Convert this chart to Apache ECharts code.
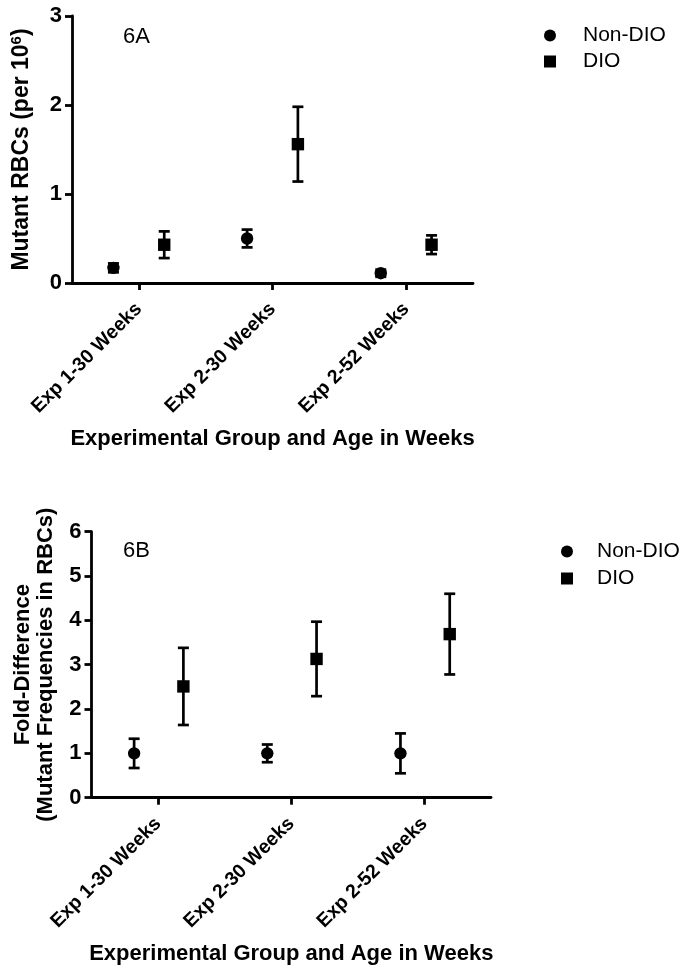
<!DOCTYPE html>
<html>
<head>
<meta charset="utf-8">
<script src="https://cdn.jsdelivr.net/npm/echarts@6/dist/echarts.min.js"></script>
<style>
html,body{margin:0;padding:0;background:#fff;}
#chart{width:689px;height:975px;}
</style>
</head>
<body>
<div id="chart"></div>
<script>
const categories = ['Exp 1-30 Weeks', 'Exp 2-30 Weeks', 'Exp 2-52 Weeks'];
const yTicksA = [0, 1, 2, 3];
const yTicksB = [0, 1, 2, 3, 4, 5, 6];

// Panel 6A: Mutant RBCs (per 10^6), mean and error
const aNonDioMean = [0.17, 0.50, 0.11];
const aNonDioErr  = [0.05, 0.10, 0.04];
const aDioMean    = [0.43, 1.56, 0.43];
const aDioErr     = [0.15, 0.42, 0.105];

// Panel 6B: Fold-difference, mean and error
const bNonDioMean = [1.00, 1.00, 1.00];
const bNonDioErr  = [0.33, 0.20, 0.45];
const bDioMean    = [2.51, 3.13, 3.69];
const bDioErr     = [0.87, 0.84, 0.91];

const FONT = 'Arial, "Liberation Sans", Helvetica, sans-serif';

function rows(means, errs) {
  return means.map((m, i) => [i, m, errs[i]]);
}

function makeRender(offsetFrac, shape) {
  return function (params, api) {
    const idx = api.value(0), mean = api.value(1), err = api.value(2);
    const c = api.coord([idx, mean]);
    const band = api.size([1, 0])[0];
    const x = c[0] + band * offsetFrac;
    const yTop = api.coord([idx, mean + err])[1];
    const yBot = api.coord([idx, Math.max(mean - err, 0)])[1];
    const cap = 5.5;
    const st = { stroke: '#000', lineWidth: 2.7 };
    const children = [
      { type: 'line', shape: { x1: x, y1: yTop, x2: x, y2: yBot }, style: st },
      { type: 'line', shape: { x1: x - cap, y1: yTop, x2: x + cap, y2: yTop }, style: st },
      { type: 'line', shape: { x1: x - cap, y1: yBot, x2: x + cap, y2: yBot }, style: st }
    ];
    if (shape === 'circle') {
      children.push({ type: 'circle', shape: { cx: x, cy: c[1], r: 6.2 }, style: { fill: '#000' } });
    } else {
      children.push({ type: 'rect', shape: { x: x - 6.2, y: c[1] - 6.2, width: 12.4, height: 12.4 }, style: { fill: '#000' } });
    }
    return { type: 'group', children: children };
  };
}

const axisLine = { show: true, lineStyle: { color: '#000', width: 2.8 } };
const axisTick = { show: true, inside: false, length: 7, lineStyle: { color: '#000', width: 2.8 } };

function xAxis(gridIndex) {
  return {
    type: 'category', gridIndex: gridIndex, data: categories,
    boundaryGap: true,
    axisLine: axisLine, axisTick: Object.assign({ alignWithLabel: true }, axisTick),
    axisLabel: { rotate: 45, color: '#000', fontFamily: FONT, fontWeight: 'bold', fontSize: 19.5, margin: 23, interval: 0 },
    name: 'Experimental Group and Age in Weeks', nameLocation: 'middle', nameGap: 145,
    nameTextStyle: { color: '#000', fontFamily: FONT, fontWeight: 'bold', fontSize: 22 },
    splitLine: { show: false }
  };
}

const yLabel = { color: '#000', fontFamily: FONT, fontWeight: 'bold', fontSize: 22, margin: 10 };

const option = {
  backgroundColor: '#fff',
  animation: false,
  grid: [
    { left: 72, right: 216, top: 16, bottom: 692, containLabel: false },
    { left: 91.5, right: 198, top: 531.7, bottom: 177.3, containLabel: false }
  ],
  xAxis: [xAxis(0), xAxis(1)],
  yAxis: [
    {
      type: 'value', gridIndex: 0, min: yTicksA[0], max: yTicksA[yTicksA.length - 1], interval: 1,
      axisLine: axisLine, axisTick: axisTick, splitLine: { show: false },
      axisLabel: yLabel,
      name: '{n|Mutant RBCs (per 10}{s|6}{n|)}', nameLocation: 'middle', nameGap: 38,
      nameTextStyle: {
        color: '#000', fontFamily: FONT, fontWeight: 'bold', fontSize: 23,
        rich: {
          n: { color: '#000', fontFamily: FONT, fontWeight: 'bold', fontSize: 23 },
          s: { color: '#000', fontFamily: FONT, fontWeight: 'bold', fontSize: 15, verticalAlign: 'top', padding: [0, 0, 10, 0] }
        }
      }
    },
    {
      type: 'value', gridIndex: 1, min: yTicksB[0], max: yTicksB[yTicksB.length - 1], interval: 1,
      axisLine: axisLine, axisTick: axisTick, splitLine: { show: false },
      axisLabel: yLabel,
      name: 'Fold-Difference\n(Mutant Frequencies in RBCs)', nameLocation: 'middle', nameGap: 34,
      nameTextStyle: { color: '#000', fontFamily: FONT, fontWeight: 'bold', fontSize: 22, lineHeight: 23 }
    }
  ],
  legend: [
    {
      orient: 'vertical', left: 539, top: 20, itemWidth: 12, itemHeight: 12, itemGap: 5,
      data: [{ name: 'Non-DIO', icon: 'circle' }, { name: 'DIO', icon: 'rect' }],
      textStyle: { color: '#000', fontFamily: FONT, fontSize: 21, padding: [0, 0, 0, 22] },
      selectedMode: false
    },
    {
      orient: 'vertical', left: 556, top: 536, itemWidth: 12, itemHeight: 12, itemGap: 6,
      data: [{ name: 'Non-DIO', icon: 'circle' }, { name: 'DIO', icon: 'rect' }],
      textStyle: { color: '#000', fontFamily: FONT, fontSize: 21, padding: [0, 0, 0, 19] },
      selectedMode: false
    }
  ],
  graphic: [
    { type: 'text', left: 123, top: 26, style: { text: '6A', fill: '#000', font: '22px ' + FONT } },
    { type: 'text', left: 123, top: 540, style: { text: '6B', fill: '#000', font: '22px ' + FONT } }
  ],
  series: [
    { type: 'custom', name: 'Non-DIO', xAxisIndex: 0, yAxisIndex: 0, itemStyle: { color: '#000' },
      renderItem: makeRender(-0.19, 'circle'), data: rows(aNonDioMean, aNonDioErr), encode: { x: 0, y: 1 } },
    { type: 'custom', name: 'DIO', xAxisIndex: 0, yAxisIndex: 0, itemStyle: { color: '#000' },
      renderItem: makeRender(0.19, 'rect'), data: rows(aDioMean, aDioErr), encode: { x: 0, y: 1 } },
    { type: 'custom', name: 'Non-DIO', xAxisIndex: 1, yAxisIndex: 1, itemStyle: { color: '#000' },
      renderItem: makeRender(-0.18, 'circle'), data: rows(bNonDioMean, bNonDioErr), encode: { x: 0, y: 1 } },
    { type: 'custom', name: 'DIO', xAxisIndex: 1, yAxisIndex: 1, itemStyle: { color: '#000' },
      renderItem: makeRender(0.19, 'rect'), data: rows(bDioMean, bDioErr), encode: { x: 0, y: 1 } }
  ]
};

const chart = echarts.init(document.getElementById('chart'), null, { renderer: 'canvas' });
chart.setOption(option);
</script>
</body>
</html>
